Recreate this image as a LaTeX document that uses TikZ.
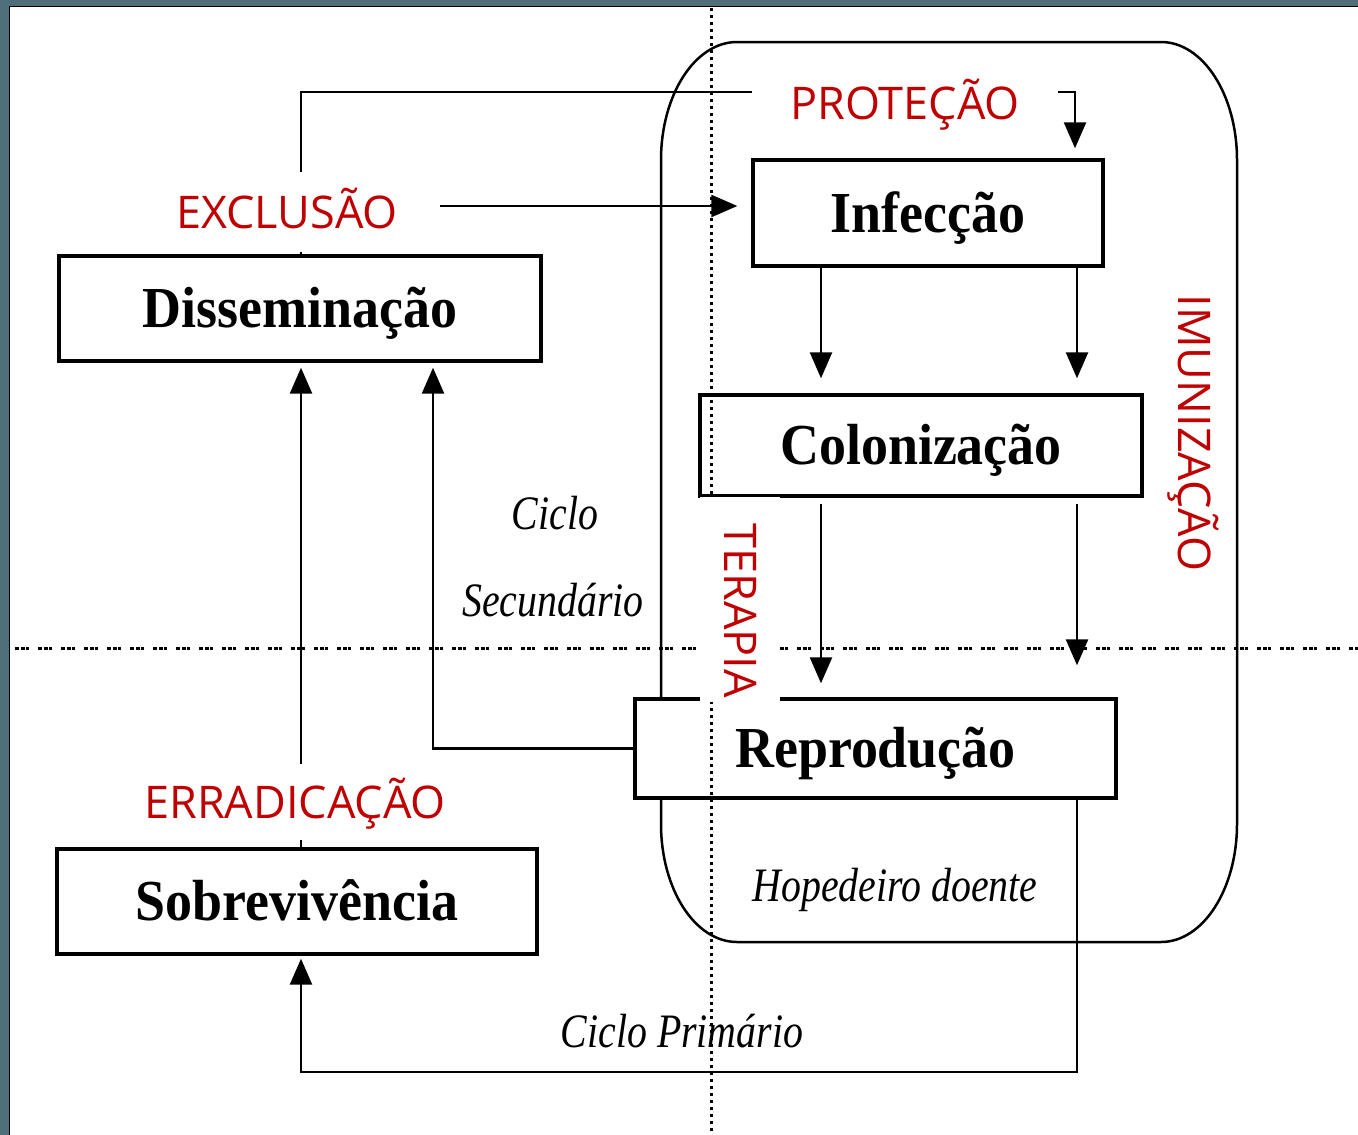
\documentclass[tikz,border=0pt]{standalone}
\usepackage{fontspec}
\setmainfont{Liberation Serif}
\newfontfamily\boxfont[FakeStretch=0.93]{Liberation Serif}
\newfontfamily\itfont[FakeStretch=0.83]{Liberation Serif}
\newfontfamily\redfont{Open Sans}
\usetikzlibrary{arrows.meta}
\definecolor{frameslate}{HTML}{4F6F7A}
\definecolor{labelred}{HTML}{C00000}
\pgfdeclarelayer{bg}
\pgfsetlayers{bg,main}
\begin{document}
\begin{tikzpicture}[x=1pt,y=1pt,
  box/.style={draw=black,line width=3.4pt,fill=white,inner sep=0pt,
    font=\boxfont\bfseries\fontsize{58}{60}\selectfont,text height=38pt,text depth=0pt},
  redlabel/.style={font=\redfont\fontsize{45}{50}\selectfont,text=labelred,
    text height=32pt,text depth=0pt},
  coverlabel/.style={redlabel,fill=white},
  itlabel/.style={font=\itfont\itshape\fontsize{48}{50}\selectfont,inner sep=0pt,
    text height=32pt,text depth=0pt},
  conn/.style={line width=2.5pt},
  arr/.style={conn,-{Triangle[width=22pt,length=26pt]}},
  vdot/.style={line width=3pt,dash pattern=on 3pt off 4pt},
  hdot/.style={line width=3pt,dash pattern=on 4pt off 1.5pt on 4pt off 1.5pt on 3pt off 9pt},
  hostframe/.style={line width=2.5pt}]
\useasboundingbox (0,0) rectangle (1358,-1135);
% boxes
\node[box,minimum width=350pt,minimum height=106pt] (inf) at (928,-213) {Infecção};
\node[box,minimum width=442pt,minimum height=101pt] (col) at (921,-445.5) {Colonização};
\node[box,minimum width=481pt,minimum height=99pt] (rep) at (875.5,-748.5) {Reprodução};
\node[box,minimum width=482pt,minimum height=105pt] (diss) at (300,-308.5) {Disseminação};
\node[box,minimum width=480pt,minimum height=105pt] (sob) at (297,-901.5) {Sobrevivência};
% dotted quadrant lines
\draw[vdot] (711,-8) -- (711,-1135);
\draw[hdot] (15,-648) -- (1358,-648);
% labels
\node[coverlabel,inner xsep=38pt,inner ysep=4pt] (prot) at (905,-103) {PROTEÇÃO};
\node[coverlabel,inner xsep=42pt,inner ysep=24pt] (excl) at (287,-212) {EXCLUSÃO};
\node[coverlabel,inner xsep=10pt,inner ysep=22pt] (err) at (295,-802) {ERRADICAÇÃO};
\node[coverlabel,rotate=-90,text width=197pt,align=right,inner xsep=4pt,inner ysep=24pt] (ter) at (740,-599.5) {TERAPIA};
\node[redlabel,rotate=-90,inner sep=0pt] (imu) at (1194,-433) {IMUNIZAÇÃO};
\node[itlabel] (cicloA) at (555,-513) {Ciclo};
\node[itlabel] (cicloB) at (553,-600) {Secundário};
\node[itlabel] (hosp) at (895,-885) {Hopedeiro doente};
\node[itlabel] (ciclo1) at (682,-1031) {Ciclo Primário};
\begin{pgfonlayer}{bg}
\fill[frameslate] (0,0) rectangle (1358,-1135);
\fill[white] (10,-7) rectangle (1358,-1135);
\draw[line width=1.5pt] (9.25,-1135) -- (9.25,-6.25) -- (1358,-6.25);
% host (rounded) frame
\draw[hostframe] (661,-160) arc[start angle=180,end angle=90,x radius=76,y radius=118]
  -- (1161,-42) arc[start angle=90,end angle=0,x radius=76,y radius=118]
  -- (1237,-824) arc[start angle=0,end angle=-90,x radius=76,y radius=118]
  -- (737,-942) arc[start angle=270,end angle=180,x radius=76,y radius=118] -- cycle;
\coordinate (xA) at (301,0);
\coordinate (xS) at (433,0);
\coordinate (xL) at (821,0);
\coordinate (xR) at (1077,0);
\coordinate (pc1) at (301,-92);
\coordinate (pc2) at (1075,-92);
\coordinate (pc3) at (301,-1072);
\draw[arr,shorten >=5pt] (sob.north -| xA) -- (diss.south -| xA);
\draw[arr,shorten >=5pt] (rep.west) -| (diss.south -| xS);
\draw[arr,shorten >=3pt] (rep.south -| xR) |- (pc3) -- (sob.south -| pc3);
\draw[arr,shorten >=10pt] (diss.north -| pc1) -- (pc1) -- (pc2) -- (inf.north -| pc2);
\draw[arr,shorten >=14pt] ([yshift=6pt]excl.east) -- ([yshift=6pt]excl.east -| inf.west);
\draw[arr,shorten >=15pt] (inf.south -| xL) -- (col.north -| xL);
\draw[arr,shorten >=15pt] (inf.south -| xR) -- (col.north -| xR);
\draw[arr,shorten <=6pt,shorten >=14pt] (col.south -| xL) -- (rep.north -| xL);
\draw[arr,shorten <=6pt,shorten >=32pt] (col.south -| xR) -- (rep.north -| xR);
\end{pgfonlayer}
\end{tikzpicture}
\end{document}
